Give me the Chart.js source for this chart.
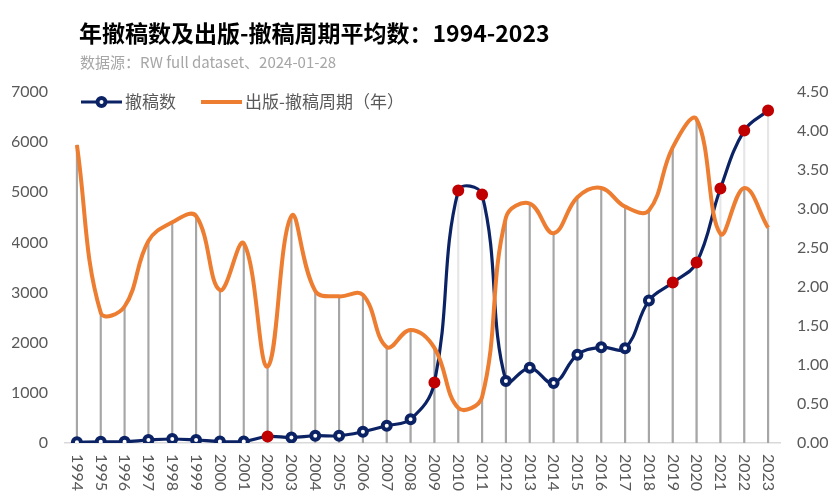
<!DOCTYPE html>
<html>
<head>
<meta charset="utf-8">
<script src="https://cdn.jsdelivr.net/npm/chart.js@4"></script>
<style>
html, body { margin: 0; padding: 0; background: #fff; }
#wrap { width: 834px; height: 504px; position: relative; }
</style>
</head>
<body>
<div id="wrap"><canvas id="chart"></canvas></div>
<script>
var titleText = "年撤稿数及出版-撤稿周期平均数：1994-2023";
var subtitleText = "数据源：RW full dataset、2024-01-28";

var years = ["1994", "1995", "1996", "1997", "1998", "1999", "2000", "2001", "2002", "2003",
             "2004", "2005", "2006", "2007", "2008", "2009", "2010", "2011", "2012", "2013",
             "2014", "2015", "2016", "2017", "2018", "2019", "2020", "2021", "2022", "2023"];

// 撤稿数 (left axis)
var retractions = [15, 25, 25, 60, 80, 60, 30, 30, 130, 110,
                   145, 145, 225, 345, 475, 1205, 5035, 4955, 1235, 1500,
                   1195, 1760, 1910, 1890, 2840, 3200, 3600, 5075, 6230, 6630];

// 出版-撤稿周期（年） (right axis)
var cycleYears = [3.82, 1.67, 1.75, 2.59, 2.83, 2.91, 1.96, 2.56, 0.98, 2.91,
                  1.95, 1.88, 1.90, 1.23, 1.45, 1.22, 0.45, 0.59, 2.89, 3.07,
                  2.69, 3.15, 3.27, 3.03, 2.98, 3.79, 4.15, 2.68, 3.27, 2.76];

// years whose marker is shown in red
var highlightYears = ["2002", "2009", "2010", "2011", "2019", "2020", "2021", "2022", "2023"];

var leftMax = 7000, leftStep = 1000;
var rightMax = 4.5, rightStep = 0.5;

var NAVY = "#0b2264";
var ORANGE = "#ed7d31";
var RED = "#c00000";
var GREY_TXT = "#595959";
var tickFont = { family: 'Lato, sans-serif', size: 16 };

// title, subtitle, x labels (rotated clockwise) and the legend inside the plot
var overlay = {
    id: 'overlay',
    afterDraw(chart) {
        var ctx = chart.ctx;
        var area = chart.chartArea;
        var xs = chart.scales.x;
        ctx.save();
        ctx.textAlign = 'left';
        ctx.textBaseline = 'middle';

        ctx.fillStyle = '#000';
        ctx.font = 'bold 23px "Noto Sans CJK SC"';
        ctx.fillText(titleText, 79, 33);
        ctx.fillStyle = '#a6a6a6';
        ctx.font = '15px "Noto Sans CJK SC"';
        ctx.fillText(subtitleText, 80, 62);

        ctx.fillStyle = GREY_TXT;
        ctx.font = '16px Lato, sans-serif';
        years.forEach(function (y, i) {
            ctx.save();
            ctx.translate(xs.getPixelForTick(i), xs.top + 11);
            ctx.rotate(Math.PI / 2);
            ctx.fillText(y, 0, 0);
            ctx.restore();
        });

        // legend
        var lx = area.left + 16;
        var ly = area.top + 10;
        ctx.font = '17px "Noto Sans CJK SC"';
        chart.data.datasets.slice(0, 2).forEach(function (ds) {
            ctx.strokeStyle = ds.borderColor;
            ctx.lineWidth = ds.borderWidth;
            ctx.beginPath();
            ctx.moveTo(lx, ly);
            ctx.lineTo(lx + 41, ly);
            ctx.stroke();
            if (ds.pointRadius) {
                ctx.beginPath();
                ctx.arc(lx + 20.5, ly, ds.pointRadius, 0, Math.PI * 2);
                ctx.fillStyle = '#fff';
                ctx.fill();
                ctx.lineWidth = ds.pointBorderWidth;
                ctx.stroke();
            }
            ctx.fillStyle = GREY_TXT;
            ctx.fillText(ds.label, lx + 44, ly);
            lx += 44 + ctx.measureText(ds.label).width + 25;
        });
        ctx.restore();
    }
};

new Chart(document.getElementById("chart"), {
    type: 'line',
    data: {
        labels: years,
        datasets: [{
            type: 'line',
            label: '撤稿数',
            data: retractions,
            yAxisID: 'y',
            borderColor: NAVY,
            borderWidth: 3.2,
            tension: 0.4,
            pointRadius: 4,
            pointBorderWidth: 4,
            pointBackgroundColor: years.map(y => highlightYears.includes(y) ? RED : '#fff'),
            pointBorderColor: years.map(y => highlightYears.includes(y) ? RED : NAVY),
            order: 2
        }, {
            type: 'line',
            label: '出版-撤稿周期（年）',
            data: cycleYears,
            yAxisID: 'y1',
            borderColor: ORANGE,
            borderWidth: 4,
            tension: 0.4,
            pointRadius: 0,
            order: 1
        }, {
            // drop lines of 撤稿数
            type: 'bar',
            label: 'drop1',
            data: retractions,
            yAxisID: 'y',
            backgroundColor: '#e6e6e6',
            barThickness: 1.5,
            grouped: false,
            order: 4
        }, {
            // drop lines of 周期
            type: 'bar',
            label: 'drop2',
            data: cycleYears,
            yAxisID: 'y1',
            backgroundColor: '#a6a6a6',
            barThickness: 1.5,
            grouped: false,
            order: 3
        }]
    },
    options: {
        responsive: true,
        maintainAspectRatio: false,
        animation: false,
        events: [],
        layout: { padding: { top: 92, left: 12, right: 6, bottom: 13 } },
        plugins: {
            legend: { display: false },
            tooltip: { enabled: false }
        },
        scales: {
            x: {
                offset: true,
                grid: { display: false, drawTicks: false },
                border: { display: true, color: '#d9d9d9', width: 1.5 },
                ticks: { display: false, autoSkip: false },
                // room for the rotated year labels drawn by the overlay
                afterFit: function (s) { s.height = 48; }
            },
            y: {
                position: 'left',
                min: 0,
                max: leftMax,
                grid: { display: false, drawTicks: false },
                border: { display: false },
                ticks: { stepSize: leftStep, padding: 17, color: GREY_TXT, font: tickFont,
                         callback: v => String(v) },
                afterFit: function (s) { s.width = 53; }
            },
            y1: {
                position: 'right',
                min: 0,
                max: rightMax,
                grid: { display: false, drawTicks: false },
                border: { display: false },
                ticks: { stepSize: rightStep, padding: 17, color: GREY_TXT, font: tickFont,
                         callback: v => v.toFixed(2) },
                afterFit: function (s) { s.width = 48; }
            }
        }
    },
    plugins: [overlay]
});
</script>
</body>
</html>
